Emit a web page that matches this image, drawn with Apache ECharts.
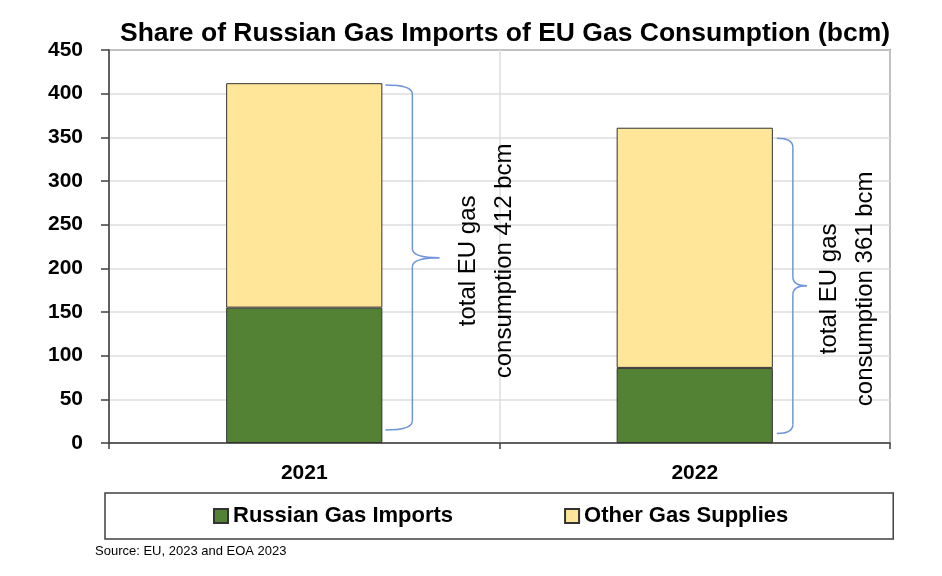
<!DOCTYPE html>
<html>
<head>
<meta charset="utf-8">
<script src="https://cdn.jsdelivr.net/npm/echarts@6/dist/echarts.min.js"></script>
<style>html,body{margin:0;padding:0;background:#fff}#c{width:942px;height:576px}</style>
</head>
<body>
<div id="c"></div>
<script>
const categories = ['2021', '2022'];
const russianImports = [155, 86];
const otherSupplies = [257, 275];
const yTicks = [0, 50, 100, 150, 200, 250, 300, 350, 400, 450];
const braceLow = [15, 11];
const braceHigh = [410, 349];
const braceTip = [212, 180];
const seriesNames = ['Russian Gas Imports', 'Other Gas Supplies'];
const sourceText = 'Source: EU, 2023 and EOA 2023';
const titleText = 'Share of Russian Gas Imports of EU Gas Consumption (bcm)';

// layout-only geometry for the braces (pixels)
const braceGeom = [{gap: 3, arm: 27, tip: 27, text: 47}, {gap: 4, arm: 16, tip: 14, text: 41}];

const totals = russianImports.map((v, i) => v + otherSupplies[i]);
const braceData = categories.map((c, i) => [i, braceLow[i], braceHigh[i], braceTip[i], totals[i]]);

const FONT = '"Liberation Sans", Arial, sans-serif';
const chart = echarts.init(document.getElementById('c'), null, {renderer: 'canvas'});
const BRACE_COLOR = '#6f95d9';

chart.setOption({
  animation: false,
  backgroundColor: '#ffffff',
  title: {
    text: titleText,
    left: 500, top: 15, textAlign: 'center',
    textStyle: {fontFamily: FONT, fontWeight: 'bold', fontSize: 26.5, color: '#000'}
  },
  grid: {
    left: 109, right: 52, top: 50, bottom: 133,
    show: true, borderColor: '#404040', borderWidth: 1.5, backgroundColor: 'transparent'
  },
  legend: {
    left: 105, top: 493,
    itemWidth: 14, itemHeight: 14, itemGap: 111,
    padding: [12, 105, 12, 108],
    borderColor: '#404040', borderWidth: 1.5,
    icon: 'rect',
    data: seriesNames,
    textStyle: {fontFamily: FONT, fontWeight: 'bold', fontSize: 22, color: '#000'}
  },
  graphic: [{
    type: 'text', left: 95, top: 545,
    style: {text: sourceText, fontFamily: '"Liberation Sans Narrow", "Liberation Sans", sans-serif', fontSize: 13, fill: '#000'}
  }],
  xAxis: {
    type: 'category', data: categories,
    axisLine: {lineStyle: {color: '#404040', width: 1.5}},
    axisTick: {show: true, length: 6, lineStyle: {color: '#404040', width: 1.5}},
    splitLine: {show: true, lineStyle: {color: '#dcdcdc', width: 1.5}},
    axisLabel: {margin: 20, fontFamily: FONT, fontWeight: 'bold', fontSize: 21, color: '#000'}
  },
  yAxis: {
    type: 'value', min: yTicks[0], max: yTicks[yTicks.length - 1], interval: yTicks[1] - yTicks[0],
    axisLine: {show: true, lineStyle: {color: '#404040', width: 1.5}},
    axisTick: {show: true, length: 8, lineStyle: {color: '#404040', width: 1.5}},
    splitLine: {show: true, lineStyle: {color: '#dcdcdc', width: 1.5}},
    axisLabel: {margin: 26, fontFamily: FONT, fontWeight: 'bold', fontSize: 21, color: '#000'}
  },
  series: [
    {
      name: seriesNames[0], type: 'bar', stack: 'total', barWidth: '40%',
      data: russianImports,
      itemStyle: {color: '#548235', borderColor: '#333', borderWidth: 1}
    },
    {
      name: seriesNames[1], type: 'bar', stack: 'total', barWidth: '40%',
      data: otherSupplies,
      itemStyle: {color: '#ffe699', borderColor: '#333', borderWidth: 1}
    },
    {
      name: 'brace', type: 'custom', silent: true, z: 5,
      data: braceData,
      renderItem: function (params, api) {
        const i = params.dataIndex;
        const g = braceGeom[i];
        const cat = api.value(0);
        const pLo = api.coord([cat, api.value(1)]);
        const pHi = api.coord([cat, api.value(2)]);
        const pTip = api.coord([cat, api.value(3)]);
        const barW = api.size([1, 0])[0] * 0.4;
        const x0 = pLo[0] + barW / 2 + g.gap;
        const x1 = x0 + g.arm;
        const xt = x1 + g.tip;
        const yT = pHi[1], yB = pLo[1], yM = pTip[1];
        const r = 9;
        const ls = {stroke: BRACE_COLOR, lineWidth: 1.5, fill: null};
        return {
          type: 'group',
          children: [
            {type: 'bezierCurve', shape: {x1: x0, y1: yT, x2: x1, y2: yT + r, cpx1: x1, cpy1: yT}, style: ls},
            {type: 'line', shape: {x1: x1, y1: yT + r, x2: x1, y2: yM - r}, style: ls},
            {type: 'bezierCurve', shape: {x1: x1, y1: yM - r, x2: xt, y2: yM, cpx1: x1, cpy1: yM}, style: ls},
            {type: 'bezierCurve', shape: {x1: xt, y1: yM, x2: x1, y2: yM + r, cpx1: x1, cpy1: yM}, style: ls},
            {type: 'line', shape: {x1: x1, y1: yM + r, x2: x1, y2: yB - r}, style: ls},
            {type: 'bezierCurve', shape: {x1: x1, y1: yB - r, x2: x0, y2: yB, cpx1: x1, cpy1: yB}, style: ls},
            {
              type: 'text', x: xt + g.text, y: yM + 3, rotation: Math.PI / 2,
              style: {
                text: 'total EU gas\nconsumption ' + api.value(4) + ' bcm',
                fontFamily: FONT, fontSize: 24, lineHeight: 36,
                align: 'center', verticalAlign: 'middle', fill: '#000'
              }
            }
          ]
        };
      }
    }
  ]
});
</script>
</body>
</html>
